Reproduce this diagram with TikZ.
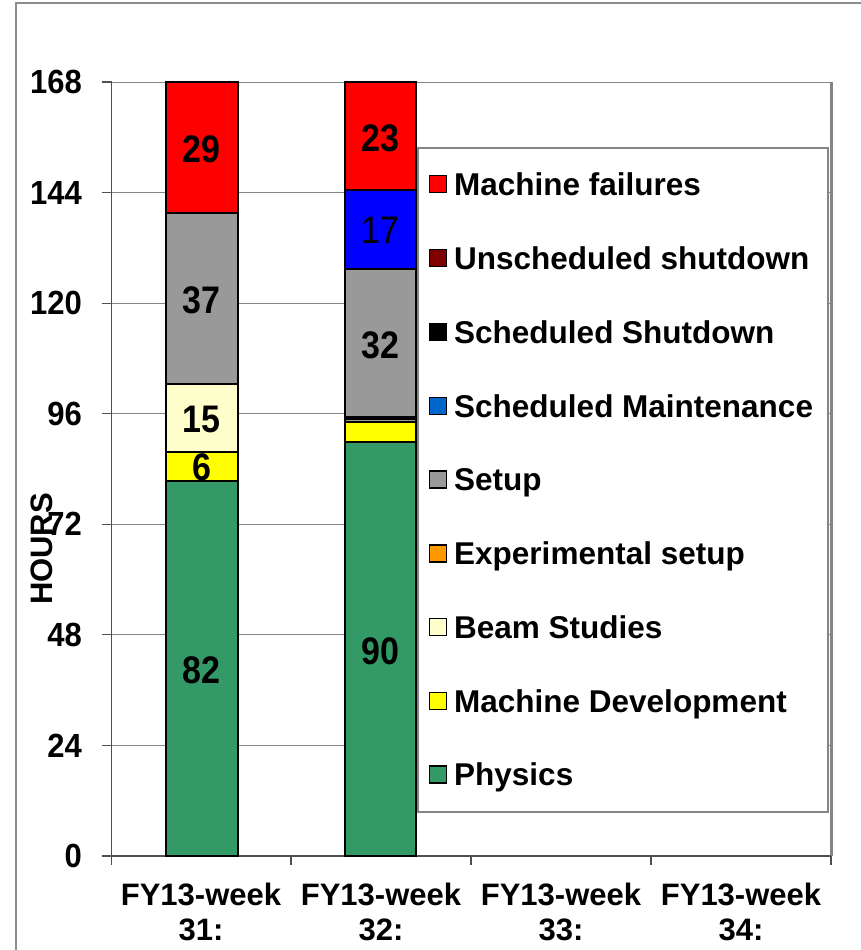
\documentclass[tikz,border=0pt]{standalone}
\usepackage{fontspec}
\setmainfont{Liberation Sans}
\usepackage{graphicx}
\definecolor{gridgray}{HTML}{858585}
\definecolor{framegray}{HTML}{8C8C8C}
\definecolor{axisgray}{HTML}{505050}
\definecolor{mfail}{HTML}{FF0000}
\definecolor{unsched}{HTML}{800000}
\definecolor{schedmaintleg}{HTML}{0066CC}
\definecolor{schedmaint}{HTML}{0000FF}
\definecolor{setupgray}{HTML}{999999}
\definecolor{expsetup}{HTML}{FF9900}
\definecolor{beamst}{HTML}{FFFFCC}
\definecolor{mdev}{HTML}{FFFF00}
\definecolor{physics}{HTML}{339966}
\newcommand{\ystretch}[2]{\scalebox{1}[#1]{#2}}
\begin{document}
\begin{tikzpicture}[x=1pt,y=-1pt,
  axlab/.style={font=\fontsize{31}{31}\selectfont\bfseries, inner sep=0pt},
  barlab/.style={font=\fontsize{34}{34}\selectfont\bfseries, inner sep=0pt},
  barlabreg/.style={font=\fontsize{34}{34}\selectfont, inner sep=0pt},
  leglab/.style={font=\fontsize{31.5}{31.5}\selectfont\bfseries, inner sep=0pt, anchor=base west},
  legsq/.style={draw=black, line width=1.5pt, minimum size=17pt, inner sep=0pt},
  seg/.style={draw=black, line width=2pt},
  gridline/.style={draw=gridgray, line width=1pt}]
\useasboundingbox (0,0) rectangle (861,950);
% outer frame
\draw[framegray, line width=1.5pt] (16,960) -- (16,3) -- (870,3);
% gridlines
\foreach \yy in {745.43,634.86,524.29,413.71,303.14,192.57}
  \draw[gridline] (102,\yy) -- (831,\yy);
% plot border
\draw[gridgray, line width=1pt] (111.5,82) -- (831,82);
\draw[gridgray, line width=3pt] (831,82) -- (831,856);
\draw[axisgray, line width=1.2pt] (102,82) -- (111.5,82);
\draw[axisgray, line width=1.2pt] (111.5,82) -- (111.5,856);
\draw[axisgray, line width=1.2pt] (102,856) -- (831,856);
\foreach \yy in {745.43,634.86,524.29,413.71,303.14,192.57}
  \draw[axisgray, line width=1.2pt] (102,\yy) -- (111.5,\yy);
\foreach \xx in {111.5,291,471,651,831}
  \draw[axisgray, line width=1.2pt] (\xx,856) -- (\xx,865);
% y labels
\foreach \v/\yy in {0/856,24/745.43,48/634.86,72/524.29,96/413.71,120/303.14,144/192.57,168/82}
  \node[axlab, anchor=east] (yl\v) at (82,\yy) {\ystretch{1.08}{\v}};
% HOURS
\node[axlab, rotate=90] (hours) at (42,549) {HOURS};
% bar 1
\draw[seg, fill=physics] (165.5,856) rectangle (237.5,481);
\draw[seg, fill=mdev] (165.5,481) rectangle (237.5,452);
\draw[seg, fill=beamst] (165.5,452) rectangle (237.5,384);
\draw[seg, fill=setupgray] (165.5,384) rectangle (237.5,213);
\draw[seg, fill=mfail] (165.5,213) rectangle (237.5,82);
\node[barlab] (b1a) at (201.5,149) {\ystretch{1.13}{29}};
\node[barlab] (b1b) at (201.5,300) {\ystretch{1.13}{37}};
\node[barlab] (b1c) at (201.5,419) {\ystretch{1.13}{15}};
\node[barlab] (b1d) at (201.5,467.5) {\ystretch{1.13}{6}};
\node[barlab] (b1e) at (201.5,670) {\ystretch{1.13}{82}};
% bar 2
\draw[seg, fill=physics] (345,856) rectangle (416,441.5);
\draw[seg, fill=mdev] (345,441.5) rectangle (416,421.5);
\draw[seg, fill=setupgray] (345,421.5) rectangle (416,418.5);
\draw[seg, fill=setupgray] (345,416.5) rectangle (416,269);
\draw[seg, fill=schedmaint] (345,269) rectangle (416,190);
\draw[seg, fill=mfail] (345,190) rectangle (416,82);
\node[barlab] (b2a) at (380.5,138) {\ystretch{1.13}{23}};
\node[barlabreg] (b2b) at (380.5,230) {\ystretch{1.13}{17}};
\node[barlab] (b2c) at (380.5,345) {\ystretch{1.13}{32}};
\node[barlab] (b2d) at (380.5,651) {\ystretch{1.13}{90}};
% x labels
\foreach \i/\xx in {31/201,32/381,33/561,34/741} {
  \node[axlab, anchor=base] (xa\i) at (\xx,905) {FY13-week};
  \node[axlab, anchor=base] (xb\i) at (\xx,940) {\i:};
}
% legend
\node[draw=gridgray, line width=1.5pt, fill=white, anchor=north west, inner sep=0pt,
      minimum width=410pt, minimum height=664pt] (legend) at (417,147) {};
\foreach \n/\c/\t/\bl in {1/mfail/Machine failures/195,
                         2/unsched/Unscheduled shutdown/269,
                         3/black/Scheduled Shutdown/343,
                         4/schedmaintleg/Scheduled Maintenance/417,
                         5/setupgray/Setup/490.5,
                         6/expsetup/Experimental setup/564.5,
                         7/beamst/Beam Studies/638,
                         8/mdev/Machine Development/712,
                         9/physics/Physics/785.5} {
  \node[legsq, fill=\c] (lsq\n) at (438,\bl-11) {};
  \node[leglab] (ltx\n) at (454,\bl) {\t};
}
\end{tikzpicture}
\end{document}
